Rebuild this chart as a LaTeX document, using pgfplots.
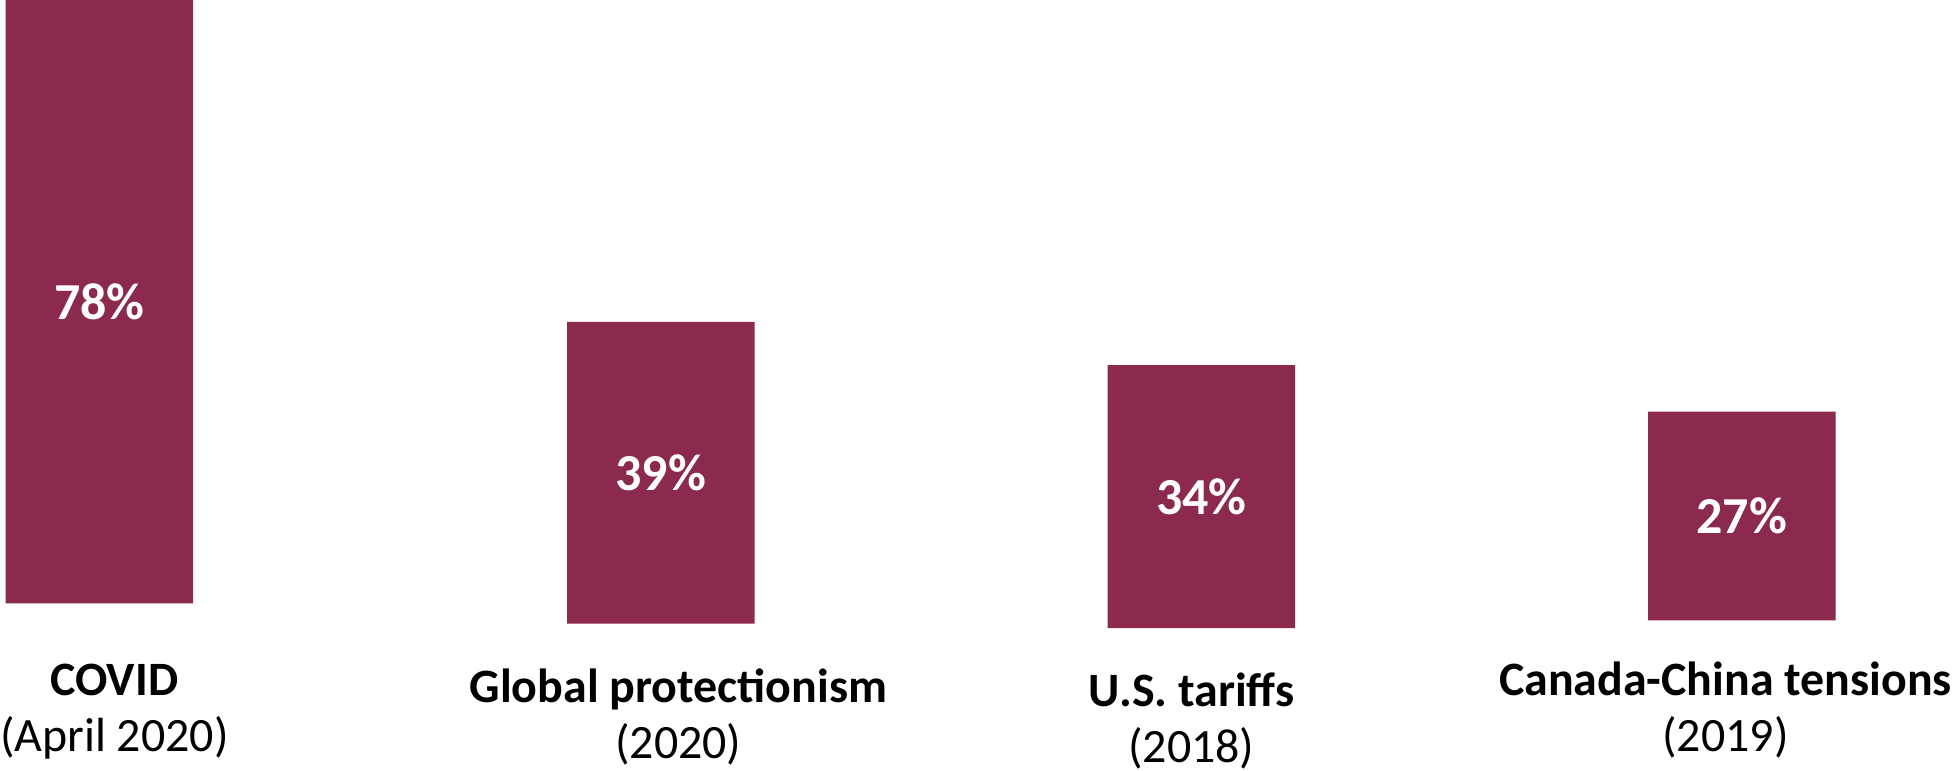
\documentclass[border=0pt]{standalone}
\usepackage{fontspec}
\setmainfont{Carlito}
\usepackage{pgfplots}
\pgfplotsset{compat=1.18}
\definecolor{barred}{HTML}{8B294E}
\begin{document}
\begin{tikzpicture}
\pgfplotsset{
  common/.style={
    scale only axis, width=976.5pt, height=314.5pt,
    xmin=0, xmax=1953, ymin=0, ymax=81.16,
    clip=false,
  }
}
\begin{axis}[common, axis lines=none,
  ybar stacked, bar width=188,
  ytick=\empty,
]
\addplot[draw=none, fill=none] coordinates {(96,3.2) (658.5,0.6) (1200,0) (1741.5,1.0)};
\addplot[draw=none, fill=barred] coordinates {(96,78) (658.5,39) (1200,34) (1741.5,27)};
\end{axis}
\begin{axis}[common,
  axis line style={draw=none},
  major tick length=0pt,
  xtick={111,676,1190,1725},
  xticklabels={{\rule{0pt}{18pt}\textbf{COVID}\\(April 2020)},
               {\rule{0pt}{21.5pt}\textbf{Global protectionism}\\(2020)},
               {\rule{0pt}{23.5pt}\textbf{U.S. tariffs}\\(2018)\rule[-4pt]{0pt}{4pt}},
               {\rule{0pt}{18pt}\textbf{Canada-China tensions}\\(2019)}},
  xticklabel style={anchor=north, align=center, inner sep=0pt, yshift=-15.5pt,
    font=\fontsize{24}{28}\selectfont},
  ytick=\empty,
]
\addplot[draw=none, nodes near coords={\fontsize{26}{30}\selectfont\bfseries\pgfplotspointmeta},
  point meta=explicit symbolic,
  every node near coord/.style={anchor=center, text=white}]
  coordinates {(96,42.2)[78\%] (658.5,20.1)[39\%] (1200,17)[34\%] (1741.5,14.5)[27\%]};
\end{axis}
\end{tikzpicture}
\end{document}
